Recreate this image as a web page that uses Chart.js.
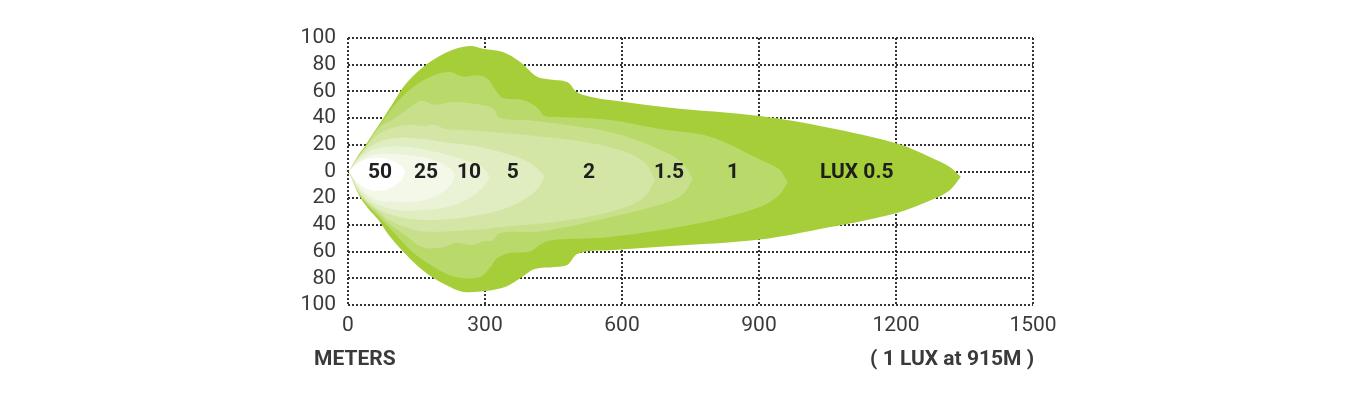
<!DOCTYPE html>
<html>
<head>
<meta charset="utf-8">
<script src="https://cdn.jsdelivr.net/npm/chart.js@4.4.1/dist/chart.umd.min.js"></script>
<style>
  html, body { margin: 0; background: #fff; }
  #wrap { width: 1360px; height: 400px; }
</style>
</head>
<body>
<div id="wrap"><canvas id="beamChart"></canvas></div>
<script>
// Lux levels, from the centre of the beam outwards
const luxLabels = ['50', '25', '10', '5', '2', '1.5', '1', 'LUX 0.5'];
const labelPos = [70, 171, 265, 361, 528, 703, 843, 1114];
const xTicks = [0, 300, 600, 900, 1200, 1500];

// Contours [meters, width]: upper edge and lower edge of each level
const top50 = [[2,0],[20,6],[50,10],[80,10],[105,7],[120,3],[125,-1]];
const bot50 = [[2,0],[20,-8],[50,-14],[80,-14],[105,-10],[120,-5],[125,-1]];

const top25 = [[2,0],[25,8],[60,13],[110,13],[160,11],[200,7],[225,2],[234,-3]];
const bot25 = [[2,0],[26,-12],[60,-21],[110,-23],[160,-22],[200,-17],[225,-10],[234,-3]];

const top10 = [[2,0],[25,9.5],[60,17],[110,19],[160,17],[212,13],[260,8],[295,3],[311,-4]];
const bot10 = [[2,0],[26,-14],[60,-24],[110,-29],[160,-29],[212,-27],[260,-21],[295,-12],[311,-4]];

const top5 = [[2,0],[25,11],[60,21],[100,25],[150,25],[212,22],[280,19],[340,14],[390,8],[415,2],[431,-4]];
const bot5 = [[2,0],[26,-16],[60,-27],[100,-33],[150,-36],[212,-36],[280,-33],[340,-28],[390,-20],[415,-13],[431,-4]];

const top2 = [[2,0],[25,12],[60,26],[100,33],[140,35],[165,34],[190,35],[212,32],[250,31],[300,30],[330,29],
              [400,27],[480,24],[552,20],[620,13],[652,6],[672,-6]];
const bot2 = [[2,0],[26,-17],[60,-28],[100,-38],[140,-43],[170,-45],[212,-45],[260,-44],[300,-43],[350,-41],
              [450,-38],[552,-32],[620,-25],[652,-18],[672,-6]];

const top15 = [[2,0],[25,12.5],[37,17],[66,32],[103,40],[140,49],[162,53],[190,50],[228,52],[272,51],[304,49],
               [318,47],[333,40],[405,38],[552,31],[620,25],[698,14],[735,5.5],[755,-5.5]];
const bot15 = [[2,0],[26,-17.5],[45,-25],[66,-31],[88,-38.5],[125,-47.5],[162,-56.5],[206,-57],[234,-53.5],[272,-55],
               [300,-52],[315,-52],[333,-46],[420,-45],[552,-36],[698,-23.5],[735,-16.5],[755,-5.5]];

const top1 = [[2,0],[25,13],[37,18],[60,30],[81,40],[100,49],[140,62.5],[184,71.5],[223,74.5],[252,71],[282,72],
              [304,70],[326,59.5],[339,55],[383,53.5],[414,48],[431,41.5],[458,41],[574,38.5],[680,32],[793,26],
              [902,9],[943,2],[963,-8]];
const bot1 = [[2,0],[26,-18],[45,-26],[66,-33.5],[100,-45.5],[140,-60],[190,-72],[234,-79],[289,-79],[311,-72],
              [326,-65],[355,-61],[398,-60],[427,-53.5],[458,-51],[574,-49],[771,-38.5],[902,-26.5],[943,-18],[963,-8]];

const top05 = [[2,0],[25,13.5],[37,19],[60,31],[81,42],[100,52],[125,65],[175,81],[228,91],[267,94],[296,92],
               [339,89.5],[377,82],[414,71],[442,69],[480,67],[501,59.5],[530,56],[574,53.5],[700,48],[902,41.5],
               [1050,33],[1202,21],[1280,10],[1318,3.4],[1342,-4]];
const bot05 = [[2,0],[26,-19],[45,-28],[66,-36],[90,-48],[118,-59],[150,-70],[184,-79],[215,-85],[250,-90],
               [300,-89.5],[344,-86.5],[377,-80],[409,-73],[453,-71.5],[480,-70],[501,-62],[530,-59.5],[574,-59],
               [700,-56],[902,-51],[1050,-42],[1202,-31],[1280,-21],[1318,-14],[1342,-4]];

const levelColors = ['#ffffff', '#f3f8e8', '#eaf3d6', '#e0edc0', '#d4e6a5', '#c8e08b', '#bad96b', '#a6ce39'];
const contours = [[top50, bot50], [top25, bot25], [top10, bot10], [top5, bot5],
                  [top2, bot2], [top15, bot15], [top1, bot1], [top05, bot05]];

const toPts = arr => arr.map(p => ({x: p[0], y: p[1]}));

// two datasets per level: upper edge filled down to its lower edge
const datasets = [];
contours.forEach((c, i) => {
    const base = {
        showLine: true,
        tension: 0.35,
        pointRadius: 0,
        borderWidth: 1,
        borderColor: 'rgba(0,0,0,0)',
        backgroundColor: levelColors[i]
    };
    datasets.push(Object.assign({}, base, {label: luxLabels[i], data: toPts(c[0]), fill: {target: i * 2 + 1}}));
    datasets.push(Object.assign({}, base, {label: luxLabels[i] + ' low', data: toPts(c[1]), fill: false}));
});

const gridOpts = {color: '#333333', lineWidth: 2, drawTicks: false};
const tickFont = {family: 'Roboto', size: 21};

const textPlugin = {
    id: 'beamText',
    afterDatasetsDraw(chart) {
        const {ctx, scales: {x, y}} = chart;
        ctx.save();
        ctx.fillStyle = '#1e1e1e';
        ctx.font = 'bold 21px Roboto';
        ctx.textAlign = 'center';
        ctx.textBaseline = 'middle';
        luxLabels.forEach((t, i) => ctx.fillText(t, x.getPixelForValue(labelPos[i]), y.getPixelForValue(0) + 1));
        ctx.restore();
    },
    afterDraw(chart) {
        const ctx = chart.ctx;
        ctx.save();
        ctx.fillStyle = '#3a3a3a';
        ctx.font = 'bold 21px Roboto';
        ctx.textBaseline = 'middle';
        ctx.textAlign = 'left';
        ctx.fillText('METERS', 314, 360);
        ctx.textAlign = 'right';
        ctx.fillText('( 1 LUX at 915M )', 1034, 360);
        ctx.restore();
    }
};

new Chart(document.getElementById('beamChart'), {
    type: 'scatter',
    data: {datasets: datasets},
    options: {
        responsive: true,
        maintainAspectRatio: false,
        animation: false,
        layout: {padding: {top: 38, right: 327, bottom: 0, left: 0}},
        plugins: {legend: {display: false}, tooltip: {enabled: false}},
        scales: {
            x: {
                type: 'linear',
                min: 0,
                max: 1500,
                afterBuildTicks: s => { s.ticks = xTicks.map(v => ({value: v})); },
                afterFit: s => { s.height = 95; },
                grid: gridOpts,
                border: {display: false, dash: [2, 2]},
                ticks: {font: tickFont, color: '#3a3a3a', padding: 8, autoSkip: false, callback: v => String(v)}
            },
            y: {
                min: -100,
                max: 100,
                afterFit: s => { s.width = 348; },
                grid: gridOpts,
                border: {display: false, dash: [2, 2]},
                ticks: {
                    stepSize: 20,
                    autoSkip: false,
                    font: tickFont,
                    color: '#3a3a3a',
                    padding: 12,
                    callback: v => String(Math.abs(v))
                }
            }
        }
    },
    plugins: [textPlugin]
});
</script>
</body>
</html>
